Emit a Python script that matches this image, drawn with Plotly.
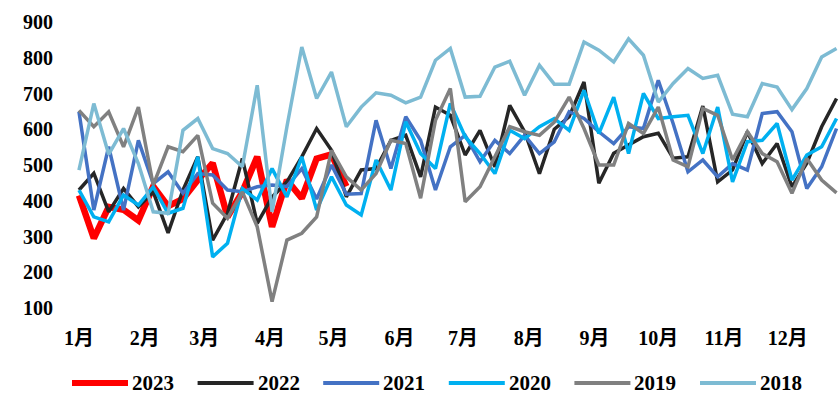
import plotly.graph_objects as go

# Weekly series, one value per week (week index 0..51)
years = ["2023", "2022", "2021", "2020", "2019", "2018"]

y2023 = [415, 295, 383, 375, 345, 440, 385, 405, 458, 505, 355, 425, 523, 327, 458, 407, 518, 530, 440]

y2022 = [430, 477, 369, 434, 383, 425, 310, 430, 523, 290, 365, 518, 337, 410, 453, 523, 602, 541, 411, 486,
         490, 569, 583, 467, 662, 639, 528, 597, 495, 667, 593, 476, 600, 635, 732, 449, 533, 555, 579, 589,
         519, 523, 665, 453, 486, 593, 504, 560, 439, 505, 607, 686]

y2021 = [649, 374, 551, 374, 569, 448, 481, 421, 476, 472, 430, 425, 439, 444, 440, 490, 405, 500, 418, 420,
         625, 490, 635, 569, 430, 551, 583, 509, 569, 532, 583, 532, 565, 649, 630, 593, 560, 607, 602, 737,
         616, 481, 514, 467, 504, 486, 644, 649, 593, 434, 495, 602]

y2020 = [430, 355, 341, 416, 388, 439, 365, 379, 523, 243, 281, 434, 402, 490, 411, 523, 374, 467, 388, 360,
         514, 430, 621, 532, 490, 672, 579, 532, 476, 597, 574, 607, 630, 597, 709, 588, 690, 532, 700, 630,
         635, 639, 532, 662, 453, 565, 569, 616, 458, 528, 551, 630]

y2019 = [653, 607, 649, 551, 662, 444, 551, 537, 583, 393, 351, 425, 327, 118, 290, 309, 355, 541, 467, 430,
         476, 569, 560, 407, 625, 714, 397, 439, 523, 607, 593, 583, 620, 690, 602, 500, 500, 616, 588, 662,
         514, 495, 658, 639, 514, 593, 532, 509, 421, 518, 458, 422]

y2018 = [486, 672, 530, 602, 504, 369, 365, 597, 630, 546, 532, 495, 723, 369, 607, 830, 686, 760, 607, 662,
         702, 695, 674, 690, 793, 826, 690, 692, 774, 790, 695, 779, 726, 726, 844, 821, 788, 853, 807, 676,
         728, 770, 742, 751, 642, 635, 728, 718, 655, 714, 802, 826]

month_labels = ["1月", "2月", "3月", "4月", "5月", "6月", "7月", "8月", "9月", "10月", "11月", "12月"]
month_start_day = [0, 31, 59, 90, 120, 151, 181, 212, 243, 273, 304, 334]
y_ticks = [100, 200, 300, 400, 500, 600, 700, 800, 900]

series = [y2023, y2022, y2021, y2020, y2019, y2018]
colors = ["#FF0000", "#262626", "#4472C4", "#00B0F0", "#808080", "#7DBBD3"]
widths = [6.5, 3.5, 3.5, 3.5, 3.5, 3.5]

W, H = 838, 404
M_L, M_R, M_T, M_B = 76, 0, 22, 96
FONT = "Times New Roman, Liberation Serif, Noto Sans CJK SC, serif"

fig = go.Figure()
for name, vals, c, w in zip(years, series, colors, widths):
    fig.add_trace(go.Scatter(
        x=list(range(len(vals))), y=vals, mode="lines", name=name,
        line=dict(color=c, width=w), showlegend=False,
    ))

# Legend row below the plot: long line samples followed by the year text
plot_w = W - M_L - M_R
plot_h = H - M_T - M_B
legend_y_px = 383
step = 125.6
for k, (name, c, w) in enumerate(zip(years, colors, widths)):
    x0 = 72 + step * k
    x1 = x0 + 56
    py = -(legend_y_px - (H - M_B)) / plot_h
    fig.add_shape(type="line", xref="paper", yref="paper",
                  x0=(x0 - M_L) / plot_w, x1=(x1 - M_L) / plot_w, y0=py, y1=py,
                  line=dict(color=c, width=6 if k == 0 else 4))
    fig.add_annotation(xref="paper", yref="paper", x=(x1 + 2 - M_L) / plot_w, y=py,
                       xanchor="left", yanchor="middle", showarrow=False, text=name,
                       font=dict(family=FONT, size=21, color="#000000", weight="bold"))

fig.update_layout(
    width=W, height=H,
    margin=dict(l=M_L, r=M_R, t=M_T, b=M_B, pad=0),
    paper_bgcolor="white", plot_bgcolor="white",
    font=dict(family=FONT, color="#000000"),
    xaxis=dict(
        range=[-0.2, 51.1], showgrid=False, zeroline=False, showline=False,
        tickmode="array", tickvals=[d / 7 for d in month_start_day], ticktext=month_labels,
        tickfont=dict(family=FONT, size=20, weight="bold"), ticks="", ticklabelstandoff=16,
    ),
    yaxis=dict(
        range=[100, 900], showgrid=False, zeroline=False, showline=False,
        tickmode="array", tickvals=y_ticks,
        tickfont=dict(family=FONT, size=20, weight="bold"), ticks="", ticklabelstandoff=22,
    ),
)

fig.write_html("out.html")
